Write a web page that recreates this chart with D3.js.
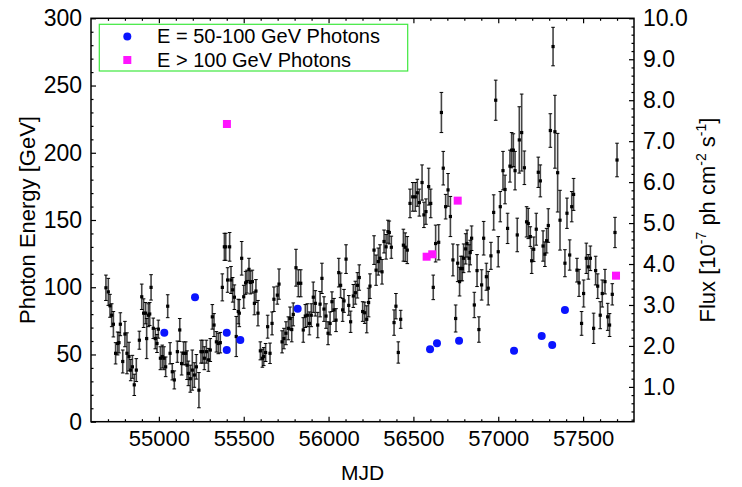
<!DOCTYPE html>
<html><head><meta charset="utf-8">
<script src="https://cdn.jsdelivr.net/npm/d3@7"></script>
<style>
body{margin:0;background:#fff;}
text{font-family:"Liberation Sans",Arial,Helvetica,sans-serif;fill:#000;}
</style></head>
<body><svg id="c" width="742" height="487"></svg>
<script>
// ---- Data ----
const fluxMJD = [54688,54702,54712,54722,54732,54745,54757,54765,54773,54787,54800,54812,54824,54834,54844,54855,54867,54885,54899,54910,54922,54928,54938,54946,54954,54967,54979,54989,54997,55009,55020,55030,55040,55052,55066,55079,55091,55109,55123,55134,55146,55158,55166,55174,55185,55197,55209,55221,55236,55248,55258,55268,55280,55292,55303,55315,55325,55339,55350,55362,55374,55386,55394,55405,55417,55425,55435,55445,55456,55468,55474,55488,55500,55511,55519,55531,55539,55551,55563,55572,55584,55598,55610,55618,55629,55641,55655,55667,55678,
55698,55708,55726,55737,55749,55763,55773,55783,55792,55808,55822,55836,55851,55863,55875,55887,55898,55910,55922,55936,55950,55961,55973,55985,55997,56009,56020,56032,56044,56060,56071,56083,56091,56103,56119,56130,56146,56158,56170,56181,56201,56213,56225,56236,56244,56268,56280,56293,56303,56315,56327,56339,56350,56358,56370,56386,56397,56411,56425,56441,56452,56464,56480,56496,56511,56523,56535,56551,56562,56574,56590,56602,56617,56631,56649,56665,56676,56690,56704,
56718,56733,56749,56761,56772,56780,56788,56796,56808,56816,56828,56835,56843,56859,56875,56886,56902,56914,56930,56941,56957,56973,56985,57000,57012,57028,57040,57055,57069,57079,57089,57099,57112,57124,57138,57154,57167,57177,57189,57197,57209,57224,57236,57248,57264,57275,57285,57295,57307,57323,57334,57350,57364,57393,57405,57421,57433,57444,57464,57476,57491,57503,57519,57531,57543,57562,57574,57586,57601,57613,57629,57645,57656,57672,57688,57700];
const fluxVal = [3.42,3.32,2.98,2.75,2.53,1.82,2.06,2.08,2.53,1.62,2.29,1.82,1.74,1.41,1.49,1.05,1.41,2.14,3.20,2.80,2.80,2.18,2.75,2.78,3.43,2.43,2.18,2.06,2.41,1.70,1.74,1.70,1.49,2.97,1.82,1.37,1.17,1.86,2.39,1.57,1.82,1.82,1.53,1.33,1.20,1.41,1.29,1.49,0.92,1.86,1.86,1.70,1.86,1.66,1.90,2.71,2.51,2.10,2.06,2.08,3.43,4.42,4.42,3.61,4.42,3.61,3.37,3.19,2.23,2.84,2.80,4.14,3.20,3.54,3.57,3.87,3.55,3.57,3.04,3.34,2.80,1.88,1.70,1.74,1.84,2.47,1.82,2.55,3.14,
3.24,3.51,2.10,2.18,2.31,2.43,2.67,2.40,2.77,3.91,3.53,3.53,2.39,2.73,2.75,2.55,2.75,3.19,3.04,2.51,3.02,3.65,2.90,2.73,2.31,2.55,3.08,2.88,2.63,3.79,3.48,2.88,3.10,4.12,2.99,2.59,3.22,3.30,3.48,3.67,2.84,2.81,2.65,3.06,3.46,4.34,3.85,4.06,4.14,3.81,4.55,4.42,4.79,4.77,4.41,2.57,2.97,1.84,2.65,4.46,4.41,4.34,5.48,5.64,5.64,5.74,5.50,5.99,5.20,5.28,5.89,5.48,3.43,4.50,4.53,7.70,6.34,5.40,5.81,
5.16,4.10,2.67,4.02,3.57,3.89,3.89,4.14,4.37,4.50,4.14,4.28,4.63,3.00,3.84,2.40,3.49,4.63,3.69,3.41,4.20,5.26,8.00,4.30,5.40,6.28,5.82,4.87,6.39,6.78,6.78,6.28,4.71,7.03,7.21,6.35,5.03,4.99,4.67,4.08,4.36,4.85,6.24,6.03,4.44,4.24,4.57,4.94,7.26,9.31,7.23,6.23,5.07,4.02,5.24,4.22,5.40,5.70,3.85,3.54,2.55,3.28,4.14,3.93,4.14,2.43,3.84,3.46,2.75,3.28,3.57,2.71,2.51,3.26,4.77,6.54];
const fluxErr = [0.31,0.33,0.28,0.28,0.31,0.26,0.28,0.25,0.28,0.28,0.31,0.50,0.35,0.26,0.28,0.26,0.28,0.22,0.31,0.35,0.26,0.49,0.28,0.28,0.31,0.25,0.25,0.22,0.22,0.28,0.28,0.28,0.24,0.28,0.26,0.20,0.22,0.26,0.28,0.28,0.28,0.28,0.35,0.30,0.33,0.49,0.30,0.30,0.43,0.28,0.28,0.28,0.28,0.28,0.28,0.30,0.28,0.25,0.25,0.25,0.33,0.33,0.33,0.30,0.35,0.33,0.30,0.30,0.49,0.30,0.33,0.41,0.28,0.28,0.28,0.27,0.28,0.28,0.28,0.28,0.31,0.22,0.22,0.22,0.22,0.28,0.25,0.28,0.30,
0.22,0.37,0.27,0.25,0.28,0.28,0.28,0.30,0.28,0.45,0.33,0.33,0.30,0.28,0.28,0.28,0.28,0.37,0.31,0.31,0.31,0.37,0.30,0.30,0.28,0.28,0.24,0.28,0.28,0.35,0.30,0.28,0.28,0.35,0.24,0.26,0.28,0.28,0.31,0.31,0.24,0.26,0.33,0.35,0.30,0.35,0.37,0.33,0.33,0.30,0.28,0.30,0.28,0.28,0.27,0.31,0.31,0.26,0.22,0.39,0.35,0.33,0.35,0.35,0.35,0.33,0.33,0.43,0.31,0.31,0.45,0.35,0.30,0.45,0.43,0.49,0.41,0.30,0.40,
0.49,0.39,0.33,0.45,0.35,0.30,0.30,0.35,0.37,0.33,0.33,0.30,0.30,0.31,0.39,0.31,0.37,0.41,0.33,0.41,0.33,0.43,0.49,0.37,0.37,0.47,0.35,0.37,0.39,0.43,0.40,0.47,0.41,0.81,0.94,0.41,0.37,0.37,0.24,0.31,0.30,0.39,0.37,0.39,0.37,0.30,0.30,0.41,0.41,0.47,0.89,0.96,0.73,0.33,0.37,0.37,0.37,0.39,0.29,0.33,0.29,0.33,0.37,0.30,0.30,0.37,0.35,0.30,0.33,0.33,0.30,0.33,0.28,0.26,0.37,0.41];

const ph50MJD = [55032,55213,55400,55400,55480,55818,56598,56639,56769,57093,57256,57318,57393];
const ph50E   = [66.2,92.5,66.2,53.3,60.8,84.0,53.8,58.3,60.2,52.8,63.7,57.0,83.1];
const ph100MJD = [55401,56578,56611,56761,57694];
const ph100E   = [221.4,122.7,124.5,164.4,108.6];

const xTicks = [55000,55500,56000,56500,57000,57500];
const eTicks = [0,50,100,150,200,250,300];
const fTicks = [1,2,3,4,5,6,7,8,9,10];
const legendLabels = ["E = 50-100 GeV Photons","E > 100 GeV Photons"];

// ---- Layout ----
const L=91, R=634, T=18.3, B=421.7;
const svg = d3.select("#c");
const x = d3.scaleLinear().domain([54600,57800]).range([L,R]);
const yE = d3.scaleLinear().domain([0,300]).range([B,T]);
const yF = d3.scaleLinear().domain([0.15,10]).range([B,T]);

function styleAxis(g, fs){
  g.select(".domain").remove();
  g.selectAll("line").attr("stroke","#000").attr("stroke-width",1.2);
  g.selectAll("text").style("font-size",fs+"px").style("font-family",'"Liberation Sans",Arial,Helvetica,sans-serif');
}
// minor ticks
const xMinor = d3.range(54700,57800,100).filter(v=>v%500!==0);
const eMinor = d3.range(10,300,10).filter(v=>v%50!==0);
const fMinor = d3.range(0.2,10,0.2).map(v=>+v.toFixed(1)).filter(v=>Math.abs(v-Math.round(v))>0.01);

svg.append("g").attr("transform",`translate(0,${B})`)
  .call(d3.axisBottom(x).tickValues(xTicks).tickSize(-5).tickPadding(9).tickFormat(d3.format("d")))
  .call(g=>styleAxis(g,22));
svg.append("g").attr("transform",`translate(0,${B})`)
  .call(d3.axisBottom(x).tickValues(xMinor).tickSize(-2.5).tickFormat(""))
  .call(g=>styleAxis(g,22));
svg.append("g").attr("transform",`translate(0,${T})`)
  .call(d3.axisTop(x).tickValues(xTicks).tickSize(-5).tickFormat(""))
  .call(g=>styleAxis(g,22));
svg.append("g").attr("transform",`translate(0,${T})`)
  .call(d3.axisTop(x).tickValues(xMinor).tickSize(-2.5).tickFormat(""))
  .call(g=>styleAxis(g,22));
svg.append("g").attr("transform",`translate(${L},0)`)
  .call(d3.axisLeft(yE).tickValues(eTicks).tickSize(-5).tickPadding(9).tickFormat(d3.format("d")))
  .call(g=>styleAxis(g,23));
svg.append("g").attr("transform",`translate(${L},0)`)
  .call(d3.axisLeft(yE).tickValues(eMinor).tickSize(-2.5).tickFormat(""))
  .call(g=>styleAxis(g,23));
svg.append("g").attr("transform",`translate(${R},0)`)
  .call(d3.axisRight(yF).tickValues(fTicks).tickSize(-5).tickPadding(9).tickFormat(d3.format(".1f")))
  .call(g=>styleAxis(g,23));
svg.append("g").attr("transform",`translate(${R},0)`)
  .call(d3.axisRight(yF).tickValues(fMinor).tickSize(-2.5).tickFormat(""))
  .call(g=>styleAxis(g,23));

// frame
svg.append("rect").attr("x",L).attr("y",T).attr("width",R-L).attr("height",B-T)
  .attr("fill","none").attr("stroke","#000").attr("stroke-width",1.5);

// flux error bars
const pts = fluxMJD.map((m,i)=>({m, f:fluxVal[i], e:fluxErr[i]}));
const eb = svg.append("g");
eb.selectAll("line.bar").data(pts).join("line").attr("class","bar")
  .attr("x1",d=>x(d.m)).attr("x2",d=>x(d.m))
  .attr("y1",d=>yF(d.f+d.e)).attr("y2",d=>yF(d.f-d.e))
  .attr("stroke","#444").attr("stroke-width",1.6);
eb.selectAll("line.capt").data(pts).join("line").attr("class","capt")
  .attr("x1",d=>x(d.m)-1.8).attr("x2",d=>x(d.m)+1.8)
  .attr("y1",d=>yF(d.f+d.e)).attr("y2",d=>yF(d.f+d.e))
  .attr("stroke","#000").attr("stroke-width",1);
eb.selectAll("line.capb").data(pts).join("line").attr("class","capb")
  .attr("x1",d=>x(d.m)-1.8).attr("x2",d=>x(d.m)+1.8)
  .attr("y1",d=>yF(d.f-d.e)).attr("y2",d=>yF(d.f-d.e))
  .attr("stroke","#000").attr("stroke-width",1);
eb.selectAll("rect").data(pts).join("rect")
  .attr("x",d=>x(d.m)-1.6).attr("y",d=>yF(d.f)-1.6).attr("width",3.2).attr("height",3.2)
  .attr("fill","#000");

// photons
svg.append("g").selectAll("circle").data(ph50MJD.map((m,i)=>({m,e:ph50E[i]}))).join("circle")
  .attr("cx",d=>x(d.m)).attr("cy",d=>yE(d.e)).attr("r",4).attr("fill","#0a14ff");
svg.append("g").selectAll("rect").data(ph100MJD.map((m,i)=>({m,e:ph100E[i]}))).join("rect")
  .attr("x",d=>x(d.m)-4).attr("y",d=>yE(d.e)-4).attr("width",8).attr("height",8).attr("fill","#ff14ff");

// legend
const lg = svg.append("g");
lg.append("rect").attr("x",99.3).attr("y",24.3).attr("width",308.4).attr("height",46.7)
  .attr("fill","#fff").attr("stroke","#3ee83e").attr("stroke-width",1.2);
lg.append("circle").attr("cx",127.3).attr("cy",36.5).attr("r",4).attr("fill","#0a14ff");
lg.append("rect").attr("x",123.3).attr("y",56).attr("width",8).attr("height",8).attr("fill","#ff14ff");
lg.selectAll("text").data(legendLabels).join("text")
  .attr("x",157).attr("y",(d,i)=>43.3+i*23.4).style("font-size","20px").text(d=>d);

// axis titles
svg.append("text").attr("x",(L+R)/2).attr("y",480).attr("text-anchor","middle")
  .style("font-size","21px").text("MJD");
svg.append("text").attr("transform",`translate(27,${(T+B)/2}) rotate(-90)`)
  .attr("text-anchor","middle").attr("dy","0.35em").style("font-size","22px").text("Photon Energy [GeV]");
const rt = svg.append("text").attr("transform",`translate(707,${(T+B)/2}) rotate(-90)`)
  .attr("text-anchor","middle").attr("dy","0.35em").style("font-size","22px");
rt.append("tspan").text("Flux [10");
rt.append("tspan").attr("dy",-9).style("font-size","14px").text("-7");
rt.append("tspan").attr("dy",9).text(" ph cm");
rt.append("tspan").attr("dy",-9).style("font-size","14px").text("-2");
rt.append("tspan").attr("dy",9).text(" s");
rt.append("tspan").attr("dy",-9).style("font-size","14px").text("-1");
rt.append("tspan").attr("dy",9).text("]");
</script></body></html>
